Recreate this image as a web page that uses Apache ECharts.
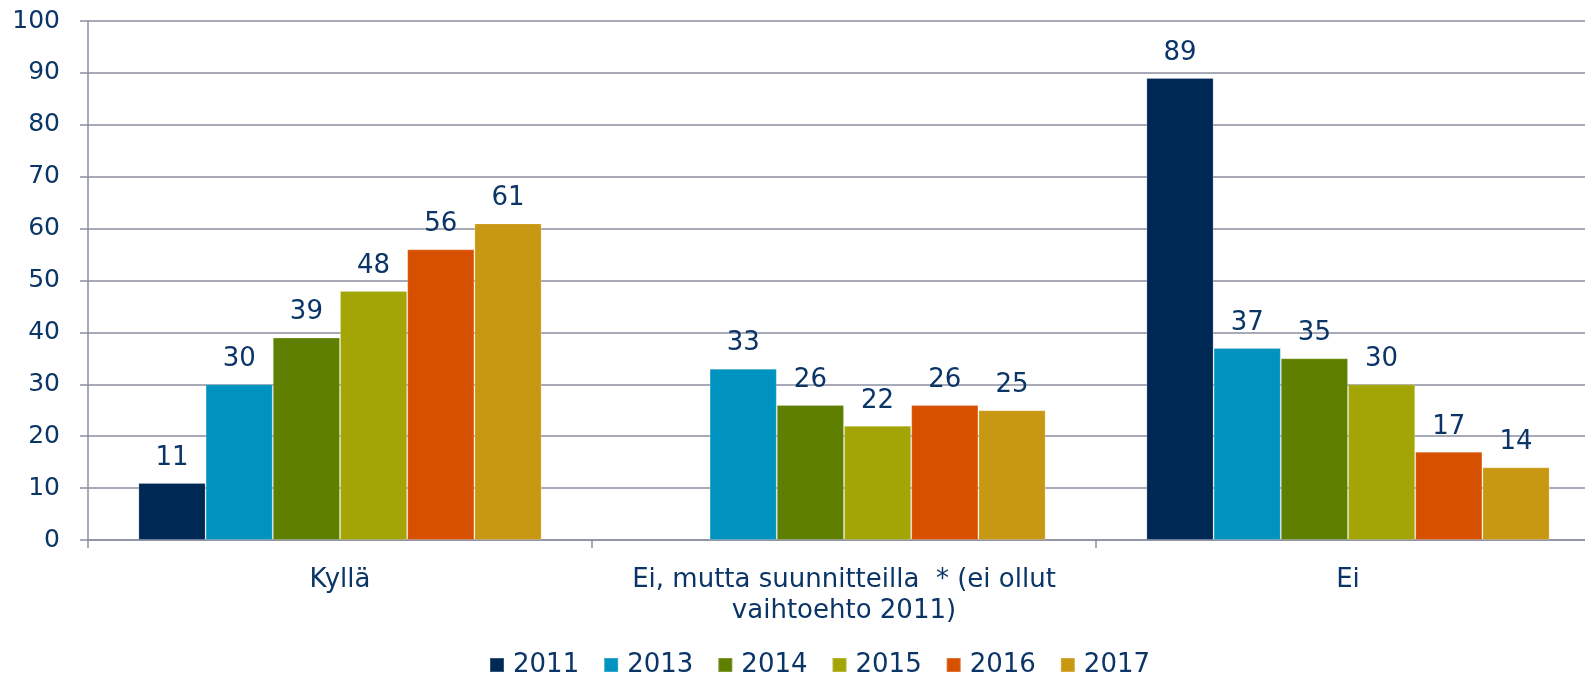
<!DOCTYPE html>
<html>
<head>
<meta charset="utf-8">
<script src="https://cdn.jsdelivr.net/npm/echarts@6/dist/echarts.min.js"></script>
<style>
	html, body { margin: 0; padding: 0; background: #fff; }
</style>
</head>
<body>
<div id="chart" style="width: 1585px; height: 675px"></div>
<script>
const categories = ['Kyllä', 'Ei, mutta suunnitteilla  * (ei ollut\nvaihtoehto 2011)', 'Ei']
const years = ['2011', '2013', '2014', '2015', '2016', '2017']
const colors = ['#002855', '#0093c0', '#5e7f00', '#a2a504', '#d75000', '#c89812']

const data2011 = [11, '-', 89]
const data2013 = [30, 33, 37]
const data2014 = [39, 26, 35]
const data2015 = [48, 22, 30]
const data2016 = [56, 26, 17]
const data2017 = [61, 25, 14]
const yearData = [data2011, data2013, data2014, data2015, data2016, data2017]

const textColor = '#0b3567'
const lineColor = '#8b8ea0'
const font = 'DejaVu Sans'

const option = {
	color: colors,
	textStyle: { fontFamily: font },
	// the last category runs past the right edge, as in the original
	grid: {
		left: 88,
		top: 21,
		width: 1512,
		height: 519,
		outerBoundsMode: 'none'
	},
	legend: {
		left: 489,
		bottom: -3,
		padding: 0,
		itemWidth: 14,
		itemHeight: 14,
		itemGap: 24,
		icon: 'rect',
		textStyle: { color: textColor, fontSize: 26, fontFamily: font, padding: [0, 0, 0, 4] },
		data: years
	},
	xAxis: {
		type: 'category',
		data: categories,
		axisLine: { lineStyle: { color: lineColor, width: 1.5 } },
		axisTick: { show: true, length: 8, lineStyle: { color: lineColor, width: 1.5 } },
		axisLabel: {
			color: textColor,
			fontSize: 26,
			lineHeight: 31,
			margin: 25,
			interval: 0
		}
	},
	yAxis: {
		type: 'value',
		min: 0,
		max: 100,
		interval: 10,
		axisLine: { show: true, lineStyle: { color: lineColor, width: 1.5 } },
		axisTick: { show: true, length: 8, lineStyle: { color: lineColor, width: 1.5 } },
		splitLine: { lineStyle: { color: lineColor, width: 1.5 } },
		axisLabel: { color: textColor, fontSize: 25, margin: 28 }
	},
	series: []
}

// one bar series per year
years.forEach((year, i) => {
	option.series.push({
		name: year,
		type: 'bar',
		data: yearData[i],
		barGap: 0,
		barCategoryGap: '20%',
		itemStyle: { borderColor: 'rgba(255,255,255,0.2)', borderWidth: 1 },
		label: {
			show: true,
			position: 'top',
			distance: 12,
			color: textColor,
			fontSize: 26,
			fontFamily: font
		}
	})
})

const myChart = echarts.init(document.getElementById('chart'))
myChart.setOption(option)

window.onresize = function() {
	myChart.resize();
};
</script>
</body>
</html>
